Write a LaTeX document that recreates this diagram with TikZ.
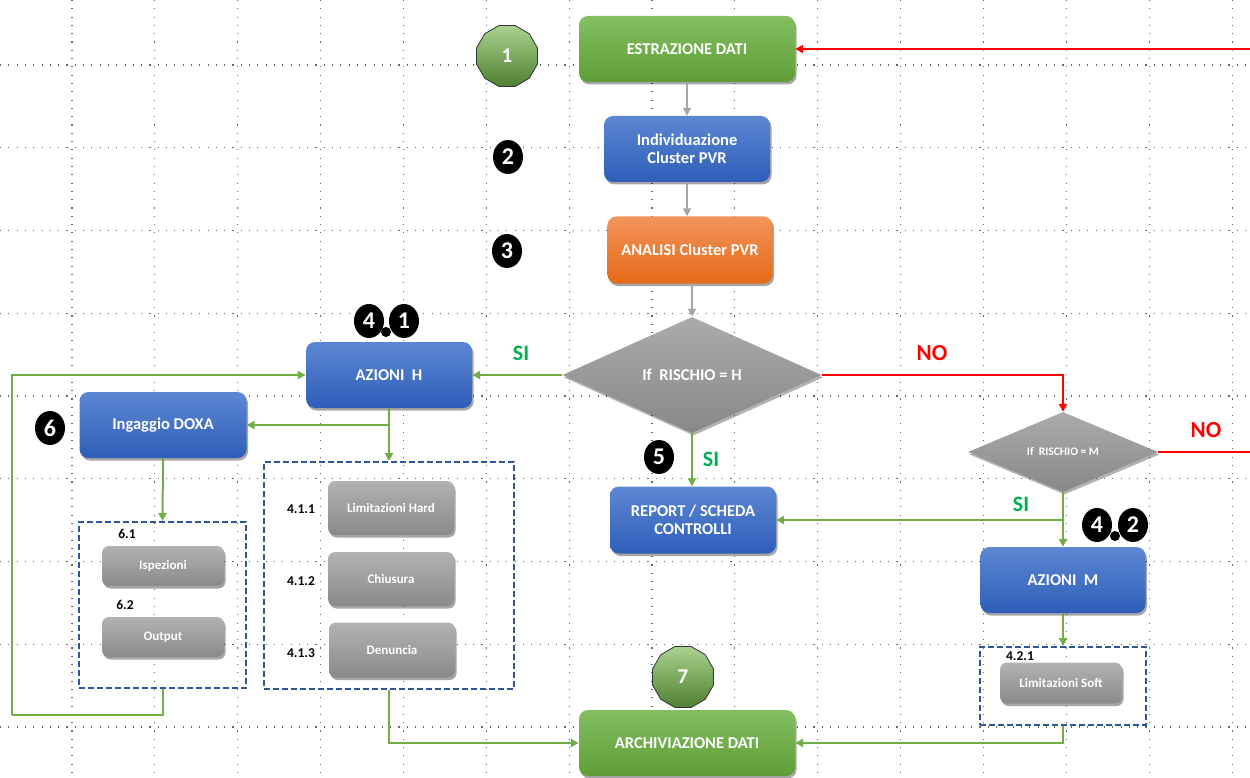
\documentclass[tikz,border=0pt]{standalone}
\usepackage{fontspec}
\setmainfont{Carlito}
\usetikzlibrary{arrows.meta,shapes.geometric,shadows}
\definecolor{gTop}{HTML}{84BE61}
\definecolor{gBot}{HTML}{5E9E35}
\definecolor{bTop}{HTML}{5C87D3}
\definecolor{bBot}{HTML}{2E5EB8}
\definecolor{oTop}{HTML}{F3935C}
\definecolor{oBot}{HTML}{E46A15}
\definecolor{dTop}{HTML}{ABABAB}
\definecolor{dBot}{HTML}{888888}
\definecolor{sTop}{HTML}{B2B2B2}
\definecolor{sBot}{HTML}{8A8A8A}
\definecolor{octTop}{HTML}{A9D28E}
\definecolor{octBot}{HTML}{4F8031}
\definecolor{dBlue}{HTML}{2F5597}
\definecolor{lineG}{HTML}{70AD47}
\definecolor{lineGrey}{HTML}{A6A6A6}
\definecolor{siG}{HTML}{00B050}
\definecolor{noR}{HTML}{FF0000}
\begin{document}
\begin{tikzpicture}[x=1pt,y=-1pt,
  griddot/.style={draw=black!60, line width=1.1pt, dash pattern=on 1.1pt off 7.2pt},
  box/.style={rounded corners=9pt, minimum width=166pt, minimum height=66pt, inner sep=2pt,
    align=center, text=white, font=\fontsize{16.5}{18.5}\selectfont\bfseries,
    drop shadow={shadow xshift=1.5pt, shadow yshift=-2.5pt, opacity=0.35, fill=black}},
  greenbox/.style={box, top color=gTop, bottom color=gBot, minimum width=216pt},
  bluebox/.style={box, top color=bTop, bottom color=bBot},
  orangebox/.style={box, top color=oTop, bottom color=oBot},
  greybox/.style={box, top color=sTop, bottom color=sBot, minimum width=126pt, minimum height=54pt,
    rounded corners=7pt, font=\fontsize{13}{15}\selectfont\bfseries},
  smallgrey/.style={greybox, minimum width=122pt, minimum height=40pt},
  decision/.style={diamond, aspect=2.2, inner sep=0pt, top color=dTop, bottom color=dBot,
    text=white, font=\fontsize{16.5}{18}\selectfont\bfseries,
    drop shadow={shadow xshift=1.5pt, shadow yshift=-2.5pt, opacity=0.3, fill=black}},
  dashbox/.style={draw=dBlue, line width=2pt, dash pattern=on 6pt off 3pt, inner sep=0pt},
  marker/.style={ellipse, fill=black, text=white, minimum width=30pt, minimum height=34pt,
    inner sep=0pt, font=\fontsize{24}{24}\selectfont\bfseries},
  markerdot/.style={circle, fill=black, minimum size=10pt, inner sep=0pt},
  octo/.style={regular polygon, regular polygon sides=12, minimum size=63pt, inner sep=0pt,
    draw=black!80, line width=0.8pt, top color=octTop, bottom color=octBot, text=white,
    font=\fontsize{21}{21}\selectfont\bfseries},
  num/.style={font=\fontsize{13.5}{14}\selectfont\bfseries, text=black, inner sep=0pt},
  silbl/.style={font=\fontsize{22}{22}\selectfont\bfseries, text=siG, inner sep=0pt},
  nolbl/.style={font=\fontsize{23}{23}\selectfont\bfseries, text=noR, inner sep=0pt},
  gline/.style={draw=lineG, line width=2pt},
  garrow/.style={gline, -{Triangle[length=8pt,width=8pt]}},
  greyarrow/.style={draw=lineGrey, line width=2.2pt, -{Triangle[length=8pt,width=8pt]}},
  redline/.style={draw=noR, line width=2pt},
  redarrow/.style={redline, -{Triangle[length=8pt,width=8pt]}}
]
\useasboundingbox (0,0) rectangle (1250,778);
% background grid
\foreach \i in {0,...,14} \draw[griddot] ({72+82.86*\i},0) -- ({72+82.86*\i},778);
\foreach \j in {0,...,8} \draw[griddot] (0,{65+82.75*\j}) -- (1250,{65+82.75*\j});

% main column
\node[greenbox] (est) at (687,49) {ESTRAZIONE DATI};
\node[bluebox] (ind) at (687,149) {Individuazione\\Cluster PVR};
\node[orangebox, minimum width=165pt, minimum height=67pt] (ana) at (690,250) {ANALISI Cluster PVR};
\node[decision, minimum width=259pt, minimum height=116pt] (dH) at (692,375) {If\ \ RISCHIO = H};
\node[bluebox, minimum height=67pt] (rep) at (693,520) {REPORT / SCHEDA\\CONTROLLI};
\node[greenbox] (arch) at (687,743) {ARCHIVIAZIONE DATI};

% right branch
\node[decision, minimum width=190pt, minimum height=80pt, font=\fontsize{11.5}{12}\selectfont\bfseries] (dM) at (1063,452) {If\ \ RISCHIO = M};
\node[bluebox, minimum width=165pt] (azM) at (1063,580) {AZIONI\ \ M};
\node[dashbox, minimum width=166pt, minimum height=78pt] (box421) at (1063,686) {};
\node[smallgrey, minimum height=41pt] (lims) at (1061,683) {Limitazioni Soft};
\node[num] (n421) at (1020,656) {4.2.1};

% left branch
\node[bluebox] (azH) at (389,375) {AZIONI\ \ H};
\node[bluebox, minimum width=167pt] (doxa) at (163,425) {Ingaggio DOXA};
\node[dashbox, minimum width=250pt, minimum height=227pt] (box41) at (389,575.5) {};
\node[greybox] (limH) at (391,508) {Limitazioni Hard};
\node[greybox] (chi) at (391,579) {Chiusura};
\node[greybox, minimum height=55pt] (den) at (392,650) {Denuncia};
\node[num] (n411) at (301,509) {4.1.1};
\node[num] (n412) at (301,581) {4.1.2};
\node[num] (n413) at (301,653) {4.1.3};
\node[dashbox, minimum width=167pt, minimum height=166pt] (box6) at (162.5,605) {};
\node[smallgrey] (ispe) at (163,566) {Ispezioni};
\node[smallgrey] (outp) at (163,637) {Output};
\node[num] (n61) at (127,534) {6.1};
\node[num] (n62) at (125,605) {6.2};

% markers
\node[octo] (o1) at (507,56) {1};
\node[octo] (o7) at (683,677) {7};
\node[marker] (m2) at (508,157) {2};
\node[marker] (m3) at (507,251) {3};
\node[marker] (m5) at (659,457) {5};
\node[marker] (m6) at (50,428) {6};
\node[markerdot] (m41d) at (386,332) {};
\node[marker] (m41a) at (369,321) {4};
\node[marker] (m41b) at (404,321) {1};
\node[markerdot] (m42d) at (1115,536) {};
\node[marker] (m42a) at (1097,525) {4};
\node[marker] (m42b) at (1133,525) {2};

% labels
\node[silbl] (si1) at (521,353) {SI};
\node[silbl] (si2) at (711,459) {SI};
\node[silbl] (si3) at (1021,504) {SI};
\node[nolbl] (no1) at (932,353) {NO};
\node[nolbl] (no2) at (1206,430) {NO};

% coordinates
\coordinate (rin) at (1250,49);
\coordinate (rout) at (1250,452);
\coordinate (loopBL) at (12,715);

% connectors
\draw[redarrow] (rin) -- (est.east);
\draw[greyarrow] (est.south) -- (ind.north);
\draw[greyarrow] (ind.south) -- (ind.south |- ana.north);
\draw[greyarrow] (ana.south -| dH.north) -- (dH.north);
\draw[garrow] (dH.west) -- (azH.east);
\draw[garrow] (dH.south) -- (dH.south |- rep.north);
\draw[redarrow] (dH.east) -| (dM.north);
\draw[redline] (dM.east) -- (rout);
\draw[garrow] (dM.south) -- (azM.north);
\coordinate (jM) at (dM.south |- rep.east);
\draw[garrow] (jM) -- (rep.east);
\draw[garrow] (azM.south) -- (box421.north);
\draw[garrow] (box421.south) |- (arch.east);
\draw[garrow] (box41.south) |- (arch.west);
\draw[garrow] (azH.south) -- (box41.north);
\coordinate (jH) at (azH.south |- doxa.east);
\draw[garrow] (jH) -- (doxa.east);
\draw[garrow] (doxa.south) -- (box6.north);
\draw[gline] (box6.south) |- (loopBL);
\draw[garrow] (loopBL) |- (azH.west);
\end{tikzpicture}
\end{document}
